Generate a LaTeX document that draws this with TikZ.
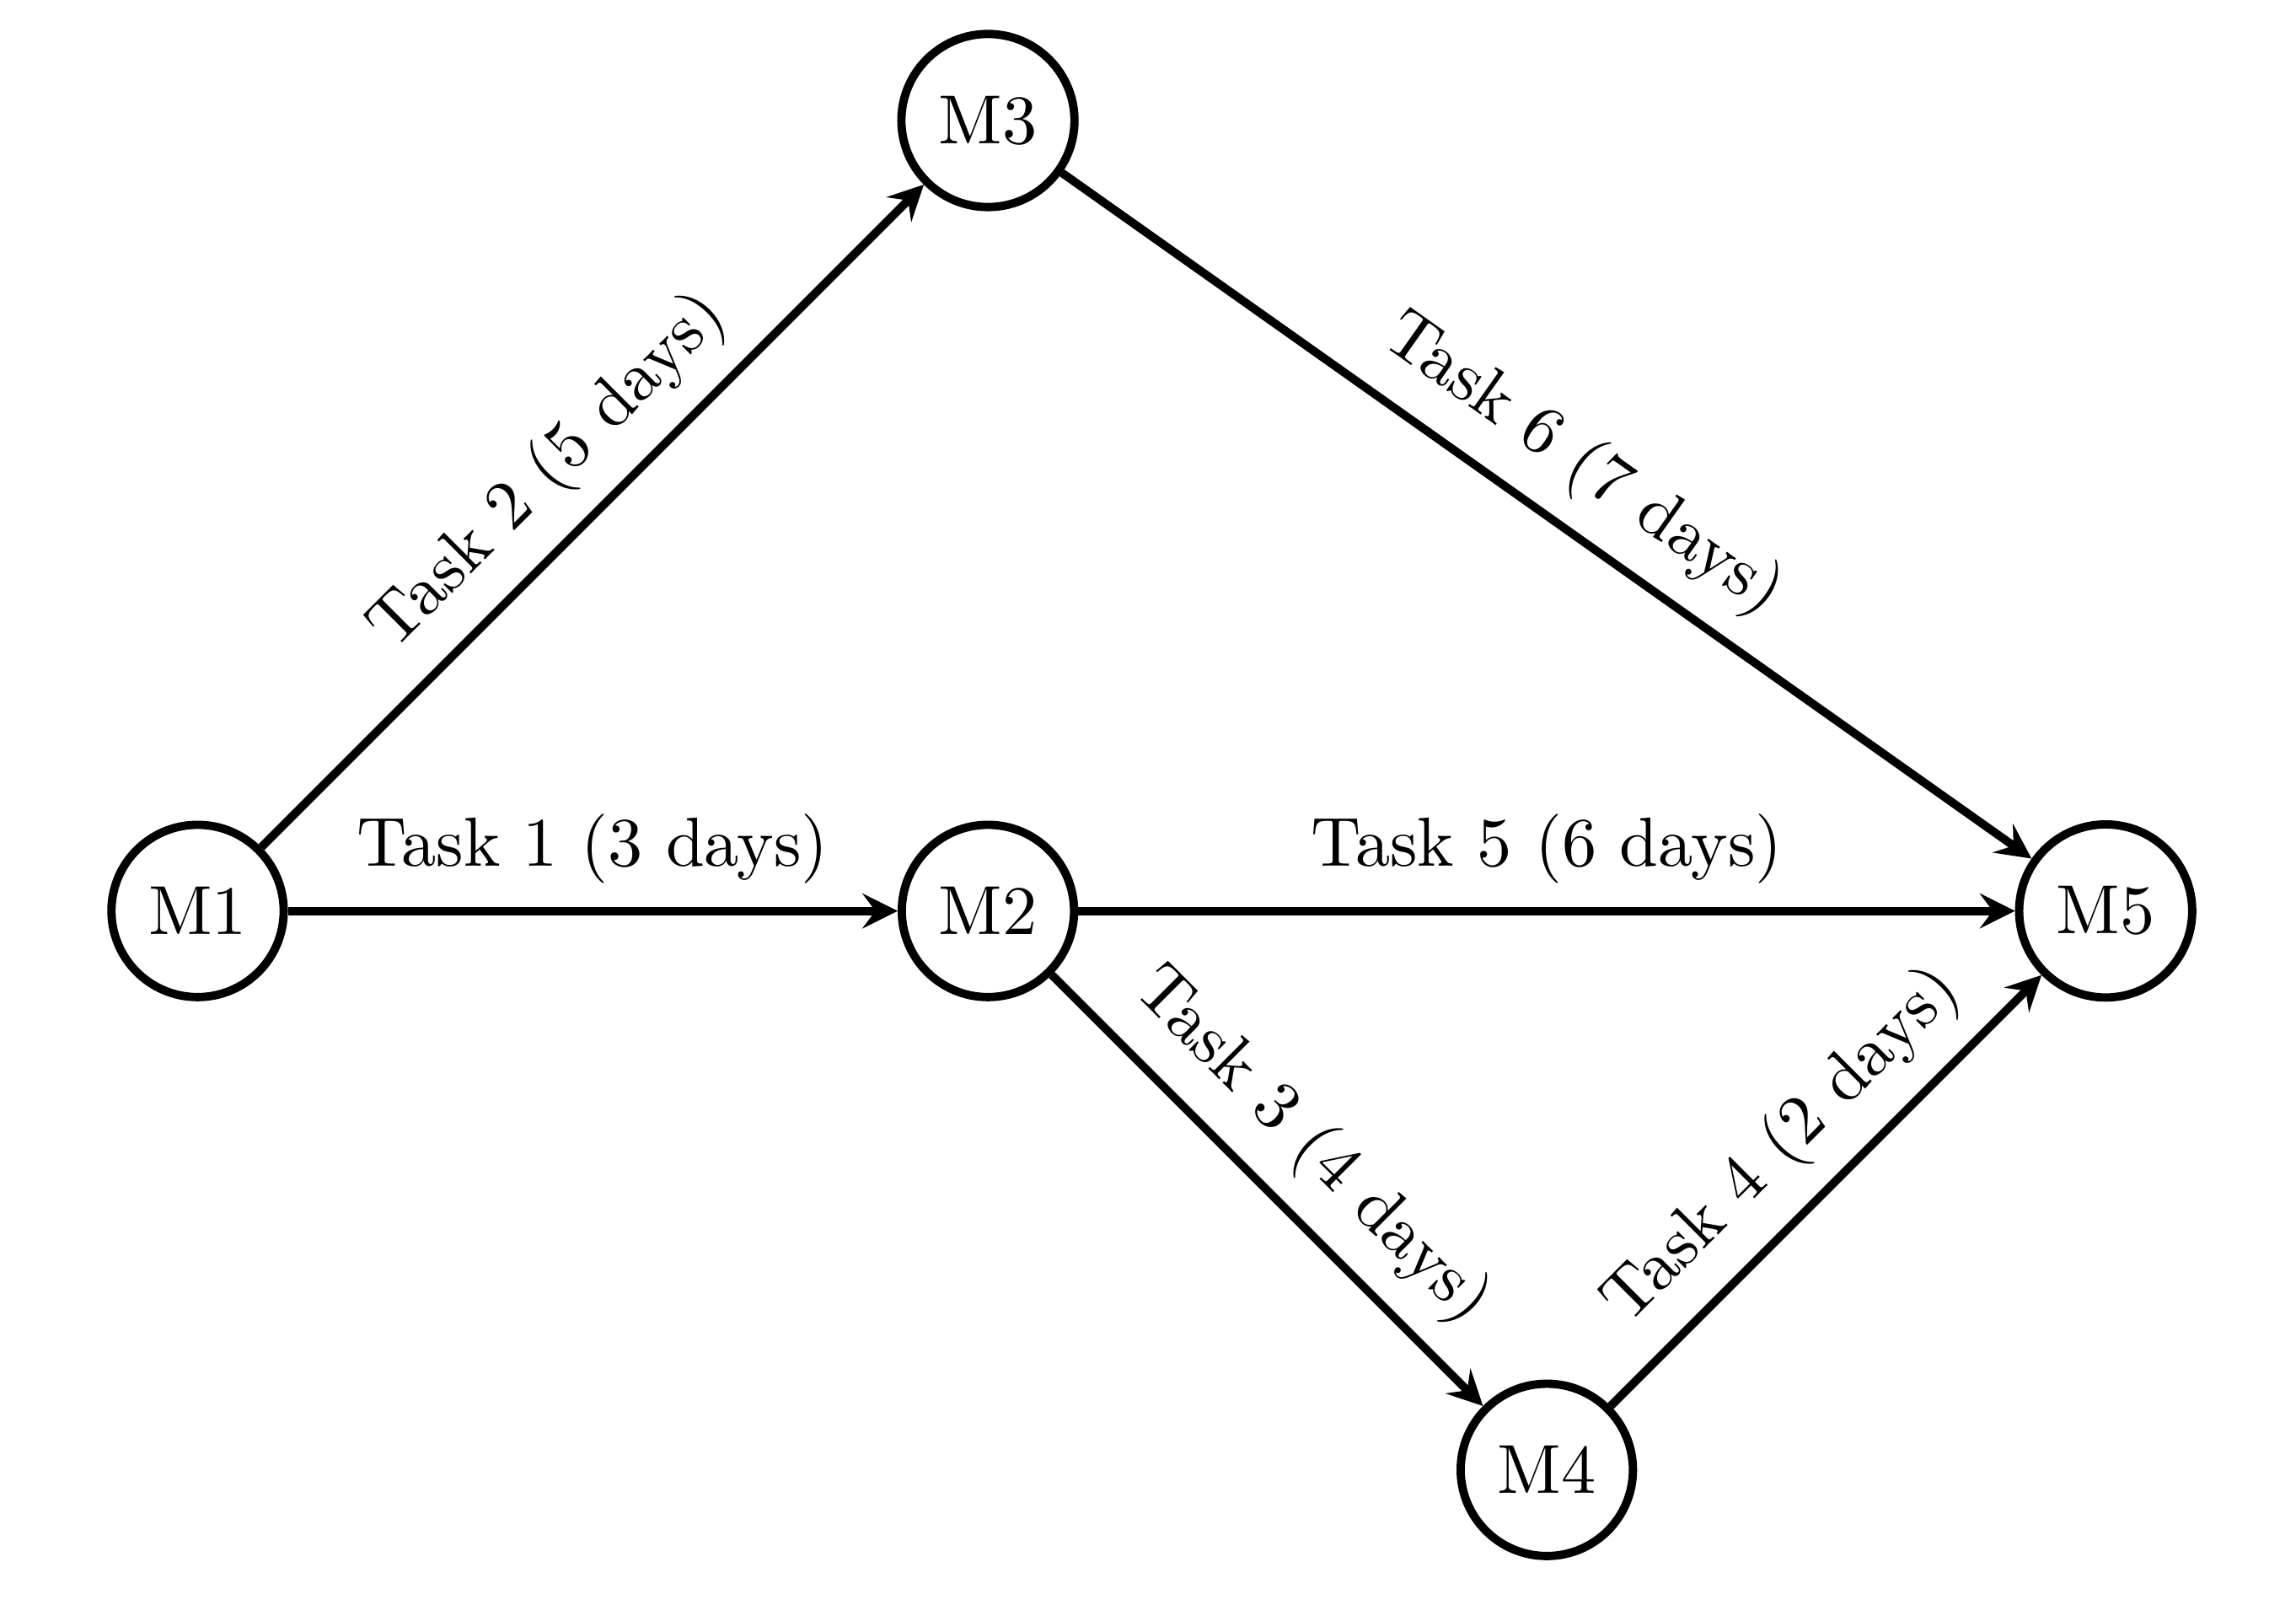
\documentclass[tikz,border=0pt]{standalone}
\usetikzlibrary{arrows}
\begin{document}
\begin{tikzpicture}[
  milestone/.style={circle, draw, very thick},
  task/.style={-stealth, very thick}
]
\useasboundingbox (-1.0,-3.51) rectangle (10.62,4.61);
\node[milestone] (M1) at (0,0) {M1};
\node[milestone] (M2) at (4,0) {M2};
\node[milestone] (M3) at (4,4) {M3};
\node[milestone] (M4) at ({4+2*sqrt(2)},{-2*sqrt(2)}) {M4};
\node[milestone] (M5) at ({4+4*sqrt(2)},0) {M5};
\draw[task] (M1) -- node[above, sloped] {Task 1 (3 days)} (M2);
\draw[task] (M1) -- node[above, sloped] {Task 2 (5 days)} (M3);
\draw[task] (M2) -- node[above, sloped] {Task 3 (4 days)} (M4);
\draw[task] (M4) -- node[above, sloped] {Task 4 (2 days)} (M5);
\draw[task] (M2) -- node[above, sloped] {Task 5 (6 days)} (M5);
\draw[task] (M3) -- node[above, sloped] {Task 6 (7 days)} (M5);
\end{tikzpicture}
\end{document}
